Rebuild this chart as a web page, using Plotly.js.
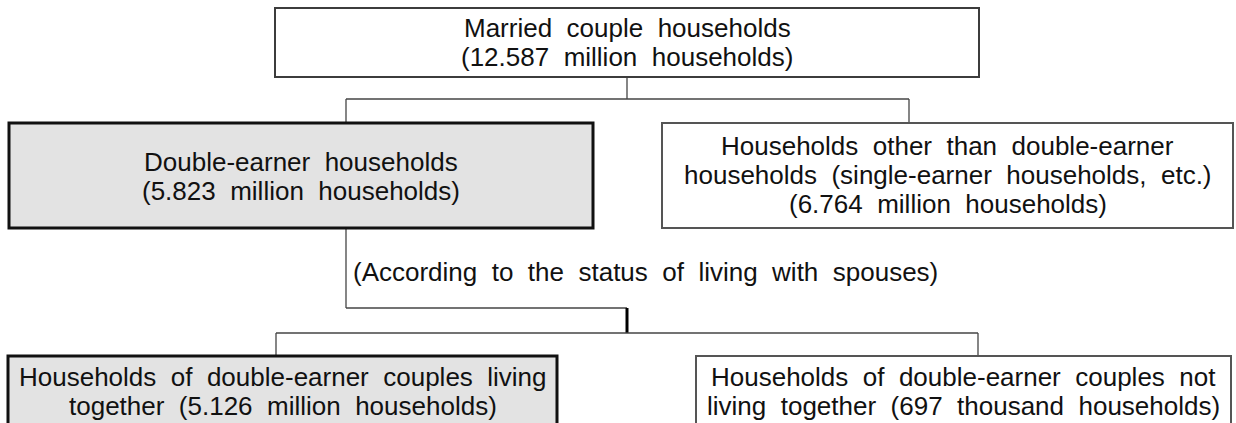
<!DOCTYPE html>
<html>
<head>
<meta charset="utf-8">
<script src="https://cdn.plot.ly/plotly-3.0.1.min.js"></script>
<style>html,body{margin:0;padding:0;background:#fff}#chart{width:1236px;height:423px}</style>
</head>
<body>
<div id="chart"></div>
<script>
// ---- data ----
var nodeIds = ["married", "double", "other", "together", "apart"];
var nodeLines = [
  ["Married couple households", "(12.587 million households)"],
  ["Double-earner households", "(5.823 million households)"],
  ["Households other than double-earner", "households (single-earner households, etc.)", "(6.764 million households)"],
  ["Households of double-earner couples living", "together (5.126 million households)"],
  ["Households of double-earner couples not", "living together (697 thousand households)"]
];
var nodeHighlighted = [false, true, false, true, false];
var branchNote = "(According to the status of living with spouses)";

// ---- layout geometry (pixel-like data coordinates) ----
var boxes = {
  married:  {x0: 275, x1: 979,  y0: 8,   y1: 77},
  double:   {x0: 9,   x1: 593,  y0: 123, y1: 228},
  other:    {x0: 662, x1: 1233, y0: 123, y1: 228},
  together: {x0: 8,   x1: 557,  y0: 356, y1: 440},
  apart:    {x0: 696, x1: 1231, y0: 356, y1: 440}
};
var firstLineY = {married: 28, double: 161.5, other: 146, together: 377, apart: 377};
var lineStep = 29;
var FONT = {family: "Liberation Sans, Arial, sans-serif", size: 26, color: "#111111"};

function spaced(s) { return s.split(" ").join("\u00a0\u00a0"); }

var shapes = [];
var annotations = [];
nodeIds.forEach(function (id, i) {
  var b = boxes[id];
  var hl = nodeHighlighted[i];
  shapes.push({
    type: "rect", xref: "x", yref: "y", x0: b.x0, x1: b.x1, y0: b.y0, y1: b.y1,
    fillcolor: hl ? "#e3e3e3" : "#ffffff",
    line: {color: hl ? "#111111" : (id === "married" ? "#3c3c3c" : "#555555"), width: hl ? 3 : 2},
    layer: "above"
  });
  nodeLines[i].forEach(function (ln, k) {
    annotations.push({
      xref: "x", yref: "y", x: (b.x0 + b.x1) / 2, y: firstLineY[id] + k * lineStep,
      text: spaced(ln), showarrow: false, xanchor: "center", yanchor: "middle",
      font: FONT
    });
  });
});

function seg(x0, y0, x1, y1, w, c) {
  shapes.push({type: "line", xref: "x", yref: "y", x0: x0, y0: y0, x1: x1, y1: y1,
    line: {color: c || "#444444", width: w || 1.3}, layer: "below"});
}
// level 1 connectors
seg(627, 77, 627, 99);
seg(346, 99, 909, 99);
seg(346, 99, 346, 123);
seg(909, 99, 909, 123);
// from double-earner box to split
seg(346, 228, 346, 308);
seg(346, 308, 627, 308);
seg(627, 308, 627, 333, 3, "#000000");
seg(276, 333, 978, 333);
seg(276, 333, 276, 356);
seg(978, 333, 978, 356);

annotations.push({
  xref: "x", yref: "y", x: 351, y: 272, text: spaced(branchNote),
  showarrow: false, xanchor: "left", yanchor: "middle", font: FONT
});

var layout = {
  width: 1236, height: 423,
  margin: {l: 0, r: 0, t: 0, b: 0},
  paper_bgcolor: "#ffffff", plot_bgcolor: "#ffffff",
  xaxis: {range: [0, 1236], visible: false, fixedrange: true},
  yaxis: {range: [423, 0], visible: false, fixedrange: true},
  shapes: shapes, annotations: annotations, showlegend: false
};
Plotly.newPlot("chart", [], layout, {staticPlot: true, displayModeBar: false});
</script>
</body>
</html>
